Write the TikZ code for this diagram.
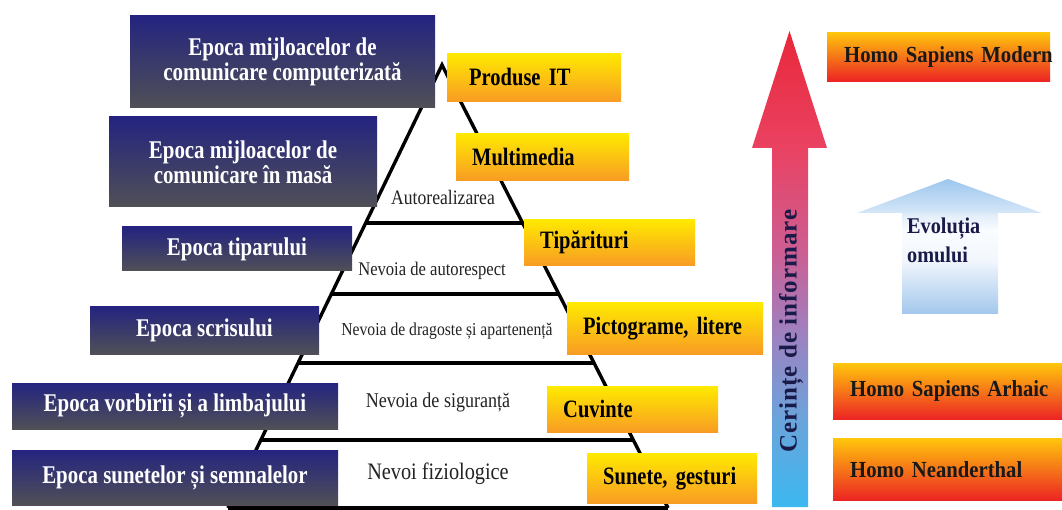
\documentclass[tikz,border=0pt]{standalone}
\usepackage{fontspec}
\setmainfont{Liberation Serif}
\newfontfamily\cf[FakeStretch=0.82]{Liberation Serif}
\newfontfamily\pf[FakeStretch=0.86]{Liberation Serif}
\newfontfamily\hf[FakeStretch=0.9]{Liberation Serif}
\newfontfamily\af[LetterSpace=4]{Liberation Serif}
\usetikzlibrary{calc}
\definecolor{navyT}{RGB}{36,36,128}
\definecolor{navyB}{RGB}{80,80,86}
\definecolor{orT}{RGB}{255,234,0}
\definecolor{orB}{RGB}{248,156,36}
\definecolor{hT}{RGB}{255,198,12}
\definecolor{hB}{RGB}{236,36,36}
\definecolor{inkN}{RGB}{26,26,72}
\definecolor{pyrInk}{RGB}{35,35,35}
\definecolor{cA}{RGB}{60,184,240}
\definecolor{cB}{RGB}{106,164,220}
\definecolor{cC}{RGB}{160,128,190}
\definecolor{cD}{RGB}{204,94,146}
\definecolor{cE}{RGB}{234,66,98}
\definecolor{cF}{RGB}{232,40,58}
\definecolor{bA}{RGB}{162,199,236}
\definecolor{bB}{RGB}{242,247,253}
\definecolor{bC}{RGB}{250,252,255}
\definecolor{bD}{RGB}{224,237,249}
\definecolor{bE}{RGB}{212,230,247}
\definecolor{bF}{RGB}{156,198,238}
\pgfdeclareverticalshading{redblue}{100bp}{color(0bp)=(cA); color(25bp)=(cA); color(34bp)=(cB); color(43.6bp)=(cC); color(52bp)=(cD); color(62.7bp)=(cE); color(75bp)=(cF); color(100bp)=(cF)}
\pgfdeclareverticalshading{lightblue}{100bp}{color(0bp)=(bA); color(25bp)=(bA); color(45bp)=(bB); color(56bp)=(bC); color(62bp)=(bD); color(62.7bp)=(bE); color(75bp)=(bF); color(100bp)=(bF)}
\tikzset{
  navybox/.style={rectangle, draw=none, inner sep=0pt, top color=navyT, bottom color=navyB,
    text=white, align=center, font=\cf\bfseries\fontsize{25.5}{25}\selectfont},
  orbox/.style={rectangle, draw=none, anchor=north west, inner ysep=0pt, top color=orT, bottom color=orB,
    text=black, align=left, font=\cf\bfseries\fontsize{25}{25}\selectfont},
  homobox/.style={rectangle, draw=none, anchor=north west, inner ysep=0pt, inner xsep=17pt, top color=hT, bottom color=hB,
    text=black!90, align=left, font=\hf\bfseries\fontsize{23}{23}\selectfont},
  pyrtext/.style={inner sep=0pt, text=pyrInk},
  edge/.style={line width=3.4pt, black},
  hline/.style={line width=4.5pt, black}
}
\begin{document}
\begin{tikzpicture}[x=1pt,y=-1pt]
\useasboundingbox (0,0) rectangle (1062,510);
\fill[white] (0,0) rectangle (1062,510);
\begin{scope}
\clip (0,0) rectangle (1062,510);
% pyramid
\coordinate (apex) at (442,65);
\coordinate (bl) at (228,508);
\coordinate (br) at (668,508);
\draw[edge] (bl) -- (apex) -- (br);
\foreach \yy in {223,294,363,440}{
  \draw[hline] ($(apex)!{(\yy-65)/443}!(bl)$) -- ($(apex)!{(\yy-65)/443}!(br)$);
}
\draw[hline] (bl) -- (br);
\node[pyrtext, font=\pf\fontsize{20.5}{20.5}\selectfont] (p1) at (443,197) {Autorealizarea};
\node[pyrtext, font=\pf\fontsize{19.3}{19.3}\selectfont] (p2) at (432,271) {Nevoia de autorespect};
\node[pyrtext, font=\pf\fontsize{18.2}{18.2}\selectfont] (p3) at (447,331) {Nevoia de dragoste și apartenență};
\node[pyrtext, font=\pf\fontsize{21}{21}\selectfont] (p4) at (438,402) {Nevoia de siguranță};
\node[pyrtext, font=\pf\fontsize{23.6}{23.6}\selectfont] (p5) at (438,474) {Nevoi fiziologice};
% navy boxes
\node[navybox, minimum width=305pt, minimum height=92pt] (e1) at (282.5,62) {Epoca mijloacelor de\\comunicare computerizată};
\node[navybox, minimum width=268pt, minimum height=90pt] (e2) at (243,162) {Epoca mijloacelor de\\comunicare în masă};
\node[navybox, minimum width=230pt, minimum height=44pt] (e3) at (237,249) {Epoca tiparului};
\node[navybox, minimum width=229pt, minimum height=47pt] (e4) at (204.5,330.5) {Epoca scrisului};
\node[navybox, minimum width=326pt, minimum height=46pt] (e5) at (175,406) {Epoca vorbirii și a limbajului};
\node[navybox, minimum width=326pt, minimum height=55pt] (e6) at (175,477.5) {Epoca sunetelor și semnalelor};
% orange boxes
\node[orbox, inner xsep=22pt, text width=130pt, minimum height=48pt] (o1) at (447,53) {\mbox{Produse IT}};
\node[orbox, inner xsep=16pt, text width=141pt, minimum height=47pt] (o2) at (456,133) {\mbox{Multimedia}};
\node[orbox, inner xsep=16pt, text width=139pt, minimum height=46pt] (o3) at (524,219) {\mbox{Tipărituri}};
\node[orbox, inner xsep=16pt, text width=164pt, minimum height=52pt] (o4) at (567,302) {\mbox{Pictograme, litere}};
\node[orbox, inner xsep=16pt, text width=139pt, minimum height=46pt] (o5) at (547,386) {\mbox{Cuvinte}};
\node[orbox, inner xsep=16pt, text width=138pt, minimum height=50pt] (o6) at (587,453) {\mbox{Sunete, gesturi}};
% red-blue arrow
\path[shading=redblue] (772,507) -- (772,148) -- (752,148) -- (789.5,31) -- (827,148) -- (808,148) -- (808,507) -- cycle;
\node[font=\af\bfseries\fontsize{25}{25}\selectfont, text=inkN, rotate=90, inner sep=0pt] (ci) at (791,331) {Cerințe de informare};
% light blue arrow
\path[shading=lightblue] (902,314) -- (902,213) -- (857,213) -- (948,179) -- (1042,213) -- (998,213) -- (998,314) -- cycle;
\node[font=\hf\bfseries\fontsize{22.5}{29}\selectfont, text=inkN, align=left, anchor=west, inner sep=0pt] (ev) at (907,240) {Evoluția\\omului};
% homo boxes
\node[homobox, text width=189pt, minimum height=49pt] (h1) at (827,32) {\mbox{Homo Sapiens Modern}};
\node[homobox, text width=195pt, minimum height=56pt] (h2) at (833,363) {\mbox{Homo Sapiens Arhaic}};
\node[homobox, text width=195pt, minimum height=62pt] (h3) at (833,438) {\mbox{Homo Neanderthal}};
\end{scope}
\end{tikzpicture}
\end{document}
